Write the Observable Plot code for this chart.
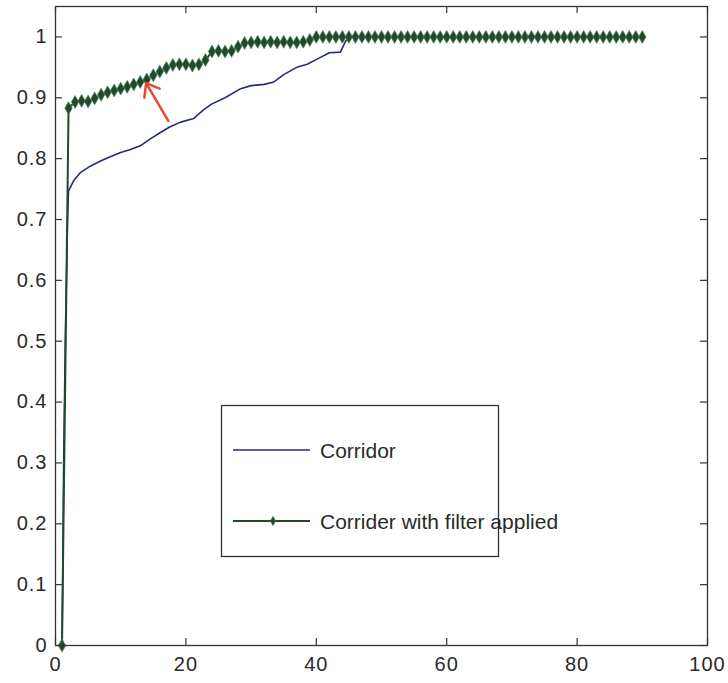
<!DOCTYPE html>
<html><head><meta charset="utf-8">
<script src="https://cdn.jsdelivr.net/npm/d3@7"></script>
<script src="https://cdn.jsdelivr.net/npm/@observablehq/plot@0.6"></script>
<style>
html,body{margin:0;padding:0;background:#fff;}
#chart svg{display:block;}
</style></head><body><div id="chart"></div>
<script>
// ---- data ----
const corridorX = [1, 1.1, 1.25, 1.5, 1.85, 2.0, 2.8, 3.8, 5.4, 6.9, 8.4, 10, 11.5, 13, 14.6, 16.1, 17.5, 19.2, 21.2, 22.7, 24, 26, 28.4, 30, 32, 33.5, 35, 37, 38.6, 40.2, 42, 43.7, 44.5, 45, 90];
const corridorY = [0, 0.1, 0.3, 0.5, 0.7, 0.747, 0.764, 0.777, 0.788, 0.796, 0.803, 0.81, 0.815, 0.821, 0.833, 0.843, 0.852, 0.86, 0.866, 0.88, 0.89, 0.9, 0.915, 0.92, 0.922, 0.926, 0.938, 0.95, 0.955, 0.964, 0.974, 0.975, 0.993, 1, 1];

const filteredX = [1,2,3,4,5,6,7,8,9,10,11,12,13,14,15,16,17,18,19,20,21,22,23,24,25,26,27,28,29,30,31,32,33,34,35,36,37,38,39,40,41,42,43,44,45,46,47,48,49,50,51,52,53,54,55,56,57,58,59,60,61,62,63,64,65,66,67,68,69,70,71,72,73,74,75,76,77,78,79,80,81,82,83,84,85,86,87,88,89,90];
const filteredY = [0, 0.883, 0.893, 0.895, 0.894, 0.899, 0.905, 0.909, 0.912, 0.915,
  0.918, 0.922, 0.926, 0.93, 0.937, 0.943, 0.949, 0.954, 0.955, 0.955,
  0.953, 0.955, 0.962, 0.976, 0.977, 0.976, 0.977, 0.984, 0.99, 0.991,
  0.992, 0.991, 0.992, 0.991, 0.992, 0.991, 0.991, 0.992, 0.995, 1,
  1,1,1,1,1,1,1,1,1,1, 1,1,1,1,1,1,1,1,1,1, 1,1,1,1,1,1,1,1,1,1,
  1,1,1,1,1,1,1,1,1,1, 1,1,1,1,1,1,1,1,1,1];

const xTicks = [0, 20, 40, 60, 80, 100];
const xTickLabels = ["0", "20", "40", "60", "80", "100"];
const yTicks = [0, 0.1, 0.2, 0.3, 0.4, 0.5, 0.6, 0.7, 0.8, 0.9, 1];
const yTickLabels = ["0", "0.1", "0.2", "0.3", "0.4", "0.5", "0.6", "0.7", "0.8", "0.9", "1"];

const seriesNames = ["Corridor", "Corrider with filter applied"];

// annotation arrow (data coordinates)
const arrowFrom = {x: 17.3, y: 0.862};
const arrowTo = {x: 13.9, y: 0.924};

// ---- build ----
const corridor = corridorX.map((x, i) => ({x, y: corridorY[i]}));
const filtered = filteredX.map((x, i) => ({x, y: filteredY[i]}));

const W = 728, H = 683, mL = 55, mR = 21, mT = 6, mB = 38;
const plotW = W - mL - mR, plotH = H - mT - mB, tick = 7;

const blue = "#262a7c";
const green = "#1f4a2b";
const markerStroke = "#55855d";
const red = "#e8482e";
const axisColor = "#333";
const font = "'Liberation Sans', Arial, sans-serif";

const chart = Plot.plot({
  width: W,
  height: H,
  marginLeft: mL,
  marginRight: mR,
  marginTop: mT,
  marginBottom: mB,
  x: {domain: [0, 100]},
  y: {domain: [0, 1.05]},
  style: {fontFamily: font, fontSize: "20px", color: "#222", background: "white"},
  marks: [
    Plot.axisX(xTicks, {anchor: "bottom", tickSize: 0, tickPadding: 11, label: null,
      tickFormat: d => xTickLabels[xTicks.indexOf(d)], fill: "#2a2a2a"}),
    Plot.axisY(yTicks, {anchor: "left", tickSize: 0, tickPadding: 8, label: null,
      tickFormat: d => yTickLabels[yTicks.indexOf(d)], fill: "#2a2a2a"}),
    Plot.line(corridor, {x: "x", y: "y", stroke: blue, strokeWidth: 1.6}),
    Plot.line(filtered, {x: "x", y: "y", stroke: green, strokeWidth: 2}),
    Plot.dot(filtered, {x: "x", y: "y", symbol: "diamond", r: 3.9, fill: green, stroke: markerStroke, strokeWidth: 0.7}),
    Plot.arrow([arrowFrom], {x1: "x", y1: "y", x2: () => arrowTo.x, y2: () => arrowTo.y,
      stroke: red, strokeWidth: 2.5, headLength: 14, headAngle: 75}),
    // inward tick marks on all four sides
    Plot.tickX(xTicks, {x: d => d, insetTop: plotH - tick, stroke: axisColor, strokeWidth: 1.2}),
    Plot.tickX(xTicks, {x: d => d, insetBottom: plotH - tick, stroke: axisColor, strokeWidth: 1.2}),
    Plot.tickY(yTicks, {y: d => d, insetRight: plotW - tick, stroke: axisColor, strokeWidth: 1.2}),
    Plot.tickY(yTicks, {y: d => d, insetLeft: plotW - tick, stroke: axisColor, strokeWidth: 1.2}),
    Plot.frame({stroke: axisColor, strokeWidth: 1.3})
  ]
});

const svg = d3.select(chart);
svg.selectAll("text").style("letter-spacing", "1px");

// legend (drawn inside the plot area, MATLAB style)
const lg = svg.append("g").attr("class", "legend").attr("text-anchor", "start");
lg.append("rect").attr("x", 221.5).attr("y", 405.5).attr("width", 277).attr("height", 151)
  .attr("fill", "white").attr("stroke", axisColor).attr("stroke-width", 1.3);
const rows = [
  {name: seriesNames[0], color: blue, marker: false, y: 450},
  {name: seriesNames[1], color: green, marker: true, y: 521}
];
for (const r of rows) {
  lg.append("line").attr("x1", 233).attr("x2", 310).attr("y1", r.y).attr("y2", r.y)
    .attr("stroke", r.color).attr("stroke-width", r.marker ? 2 : 1.6);
  if (r.marker) {
    lg.append("path").attr("d", d3.symbol(d3.symbolDiamond, 26)())
      .attr("transform", `translate(273,${r.y})`).attr("fill", green).attr("stroke", markerStroke).attr("stroke-width", 0.6);
  }
  lg.append("text").attr("x", 320).attr("y", r.y + 8).attr("text-anchor", "start").text(r.name)
    .attr("fill", "#2a2a2a").style("font-size", "21px").style("font-family", font);
}

document.getElementById("chart").appendChild(chart);
</script>
</body></html>
